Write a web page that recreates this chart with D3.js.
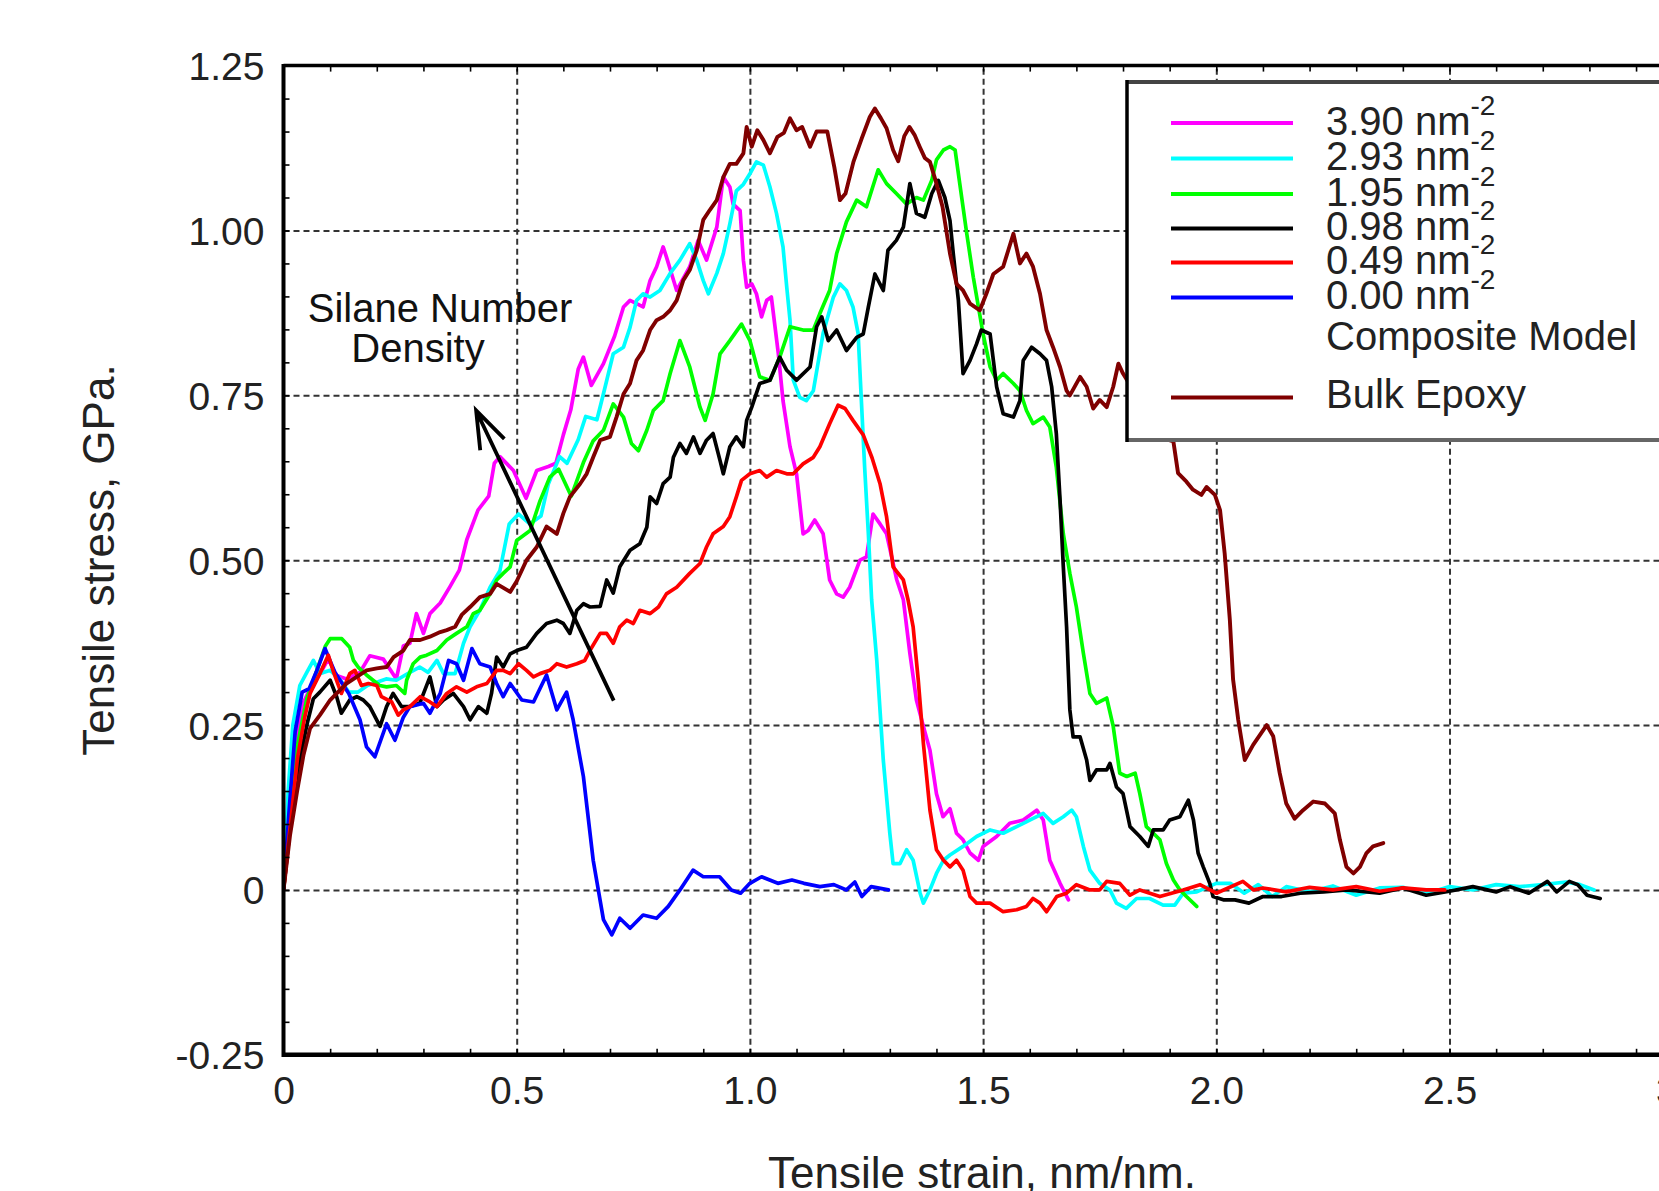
<!DOCTYPE html>
<html><head><meta charset="utf-8">
<script src="https://cdn.jsdelivr.net/npm/d3@7"></script>
<style>html,body{margin:0;padding:0;background:#fff;overflow:hidden}</style>
</head><body><svg id="c" width="1659" height="1191"></svg>
<script>
// ---- tick labels ----
const xTicks = [0, 0.5, 1, 1.5, 2, 2.5, 3];
const xTickLabels = ["0", "0.5", "1.0", "1.5", "2.0", "2.5", "3.0"];
const yTicks = [1.25, 1, 0.75, 0.5, 0.25, 0, -0.25];
const yTickLabels = ["1.25", "1.00", "0.75", "0.50", "0.25", "0", "-0.25"];

// ---- series: [strain, stress] ----
const m390 = [[0,0],[0.012,0.12],[0.025,0.22],[0.04,0.28],[0.06,0.31],[0.08,0.33],[0.096,0.35],[0.114,0.325],[0.135,0.32],[0.164,0.33],[0.185,0.355],[0.214,0.35],[0.242,0.32],[0.257,0.37],[0.271,0.374],[0.285,0.419],[0.3,0.389],[0.314,0.419],[0.336,0.435],[0.357,0.46],[0.377,0.485],[0.393,0.531],[0.417,0.576],[0.44,0.597],[0.452,0.647],[0.464,0.657],[0.493,0.636],[0.52,0.594],[0.543,0.636],[0.568,0.642],[0.584,0.647],[0.6,0.69],[0.616,0.728],[0.632,0.79],[0.643,0.808],[0.66,0.765],[0.686,0.798],[0.71,0.84],[0.729,0.884],[0.743,0.894],[0.771,0.884],[0.786,0.924],[0.8,0.945],[0.814,0.975],[0.821,0.96],[0.843,0.909],[0.871,0.945],[0.889,0.985],[0.907,0.955],[0.929,1.005],[0.943,1.081],[0.957,1.066],[0.964,1.04],[0.979,1.03],[0.986,0.955],[0.993,0.914],[1.004,0.919],[1.014,0.904],[1.025,0.869],[1.036,0.894],[1.046,0.899],[1.061,0.813],[1.071,0.742],[1.086,0.672],[1.1,0.631],[1.114,0.54],[1.125,0.545],[1.139,0.561],[1.157,0.54],[1.171,0.47],[1.186,0.449],[1.2,0.444],[1.214,0.459],[1.236,0.5],[1.25,0.505],[1.264,0.57],[1.279,0.555],[1.293,0.54],[1.315,0.47],[1.329,0.44],[1.343,0.359],[1.357,0.288],[1.372,0.248],[1.386,0.212],[1.4,0.146],[1.414,0.111],[1.429,0.123],[1.443,0.086],[1.457,0.076],[1.472,0.056],[1.49,0.045],[1.5,0.066],[1.529,0.081],[1.557,0.101],[1.586,0.106],[1.615,0.121],[1.629,0.106],[1.643,0.045],[1.665,0.01],[1.683,-0.015]];
const c293 = [[0,0],[0.01,0.15],[0.02,0.25],[0.035,0.31],[0.05,0.33],[0.064,0.348],[0.078,0.328],[0.1,0.333],[0.12,0.32],[0.14,0.3],[0.16,0.3],[0.18,0.31],[0.2,0.315],[0.22,0.32],[0.242,0.318],[0.271,0.33],[0.292,0.338],[0.31,0.33],[0.329,0.348],[0.343,0.328],[0.368,0.328],[0.386,0.374],[0.4,0.399],[0.421,0.424],[0.443,0.459],[0.464,0.484],[0.484,0.555],[0.504,0.57],[0.528,0.555],[0.552,0.567],[0.568,0.616],[0.592,0.657],[0.608,0.647],[0.632,0.683],[0.648,0.718],[0.672,0.713],[0.688,0.758],[0.707,0.813],[0.729,0.823],[0.743,0.853],[0.757,0.894],[0.771,0.904],[0.786,0.899],[0.807,0.909],[0.829,0.935],[0.85,0.955],[0.871,0.98],[0.886,0.955],[0.9,0.924],[0.911,0.904],[0.929,0.935],[0.943,0.965],[0.957,1.01],[0.971,1.06],[0.986,1.07],[1.0,1.086],[1.014,1.104],[1.029,1.099],[1.043,1.066],[1.057,1.026],[1.071,0.975],[1.079,0.914],[1.086,0.864],[1.093,0.773],[1.107,0.747],[1.121,0.742],[1.136,0.757],[1.157,0.844],[1.179,0.899],[1.193,0.919],[1.207,0.909],[1.221,0.884],[1.232,0.844],[1.239,0.742],[1.246,0.641],[1.254,0.54],[1.261,0.44],[1.272,0.348],[1.286,0.197],[1.3,0.086],[1.307,0.04],[1.322,0.04],[1.336,0.061],[1.35,0.045],[1.365,-0.005],[1.372,-0.02],[1.386,0],[1.4,0.025],[1.415,0.045],[1.429,0.053],[1.457,0.066],[1.486,0.081],[1.515,0.091],[1.543,0.086],[1.572,0.096],[1.6,0.106],[1.629,0.116],[1.65,0.101],[1.672,0.111],[1.69,0.121],[1.7,0.111],[1.715,0.066],[1.729,0.03],[1.75,0.01],[1.772,0],[1.786,-0.02],[1.807,-0.028],[1.829,-0.013],[1.857,-0.013],[1.886,-0.023],[1.911,-0.023],[1.929,-0.005],[1.958,-0.003],[2.0,0.01],[2.03,0.01],[2.06,-0.005],[2.09,0.008],[2.12,-0.01],[2.15,0.005],[2.2,-0.003],[2.25,0.006],[2.3,-0.008],[2.35,0.003],[2.4,0.004],[2.45,-0.006],[2.5,0.005],[2.55,0],[2.6,0.008],[2.65,0.005],[2.7,0.008],[2.75,0.012],[2.78,0.008],[2.81,0]];
const g195 = [[0,0],[0.015,0.12],[0.03,0.22],[0.05,0.29],[0.07,0.33],[0.09,0.37],[0.1,0.381],[0.125,0.381],[0.142,0.368],[0.15,0.348],[0.16,0.338],[0.178,0.326],[0.206,0.31],[0.221,0.308],[0.242,0.31],[0.26,0.298],[0.264,0.318],[0.278,0.343],[0.293,0.353],[0.307,0.356],[0.329,0.363],[0.35,0.379],[0.371,0.389],[0.393,0.399],[0.407,0.419],[0.421,0.424],[0.443,0.449],[0.457,0.47],[0.471,0.48],[0.486,0.49],[0.5,0.53],[0.529,0.545],[0.55,0.59],[0.571,0.626],[0.59,0.638],[0.617,0.597],[0.643,0.648],[0.664,0.681],[0.686,0.697],[0.707,0.737],[0.729,0.717],[0.746,0.677],[0.761,0.666],[0.779,0.697],[0.793,0.727],[0.814,0.742],[0.829,0.783],[0.85,0.833],[0.871,0.793],[0.893,0.732],[0.904,0.712],[0.921,0.752],[0.936,0.813],[0.957,0.833],[0.982,0.858],[1.0,0.833],[1.021,0.778],[1.043,0.773],[1.064,0.808],[1.086,0.854],[1.114,0.849],[1.136,0.849],[1.15,0.874],[1.171,0.909],[1.186,0.965],[1.207,1.013],[1.229,1.046],[1.25,1.036],[1.275,1.092],[1.293,1.071],[1.314,1.056],[1.336,1.04],[1.357,1.05],[1.372,1.046],[1.39,1.076],[1.4,1.107],[1.415,1.122],[1.429,1.127],[1.44,1.122],[1.45,1.071],[1.465,0.995],[1.479,0.929],[1.49,0.884],[1.5,0.843],[1.515,0.793],[1.529,0.773],[1.543,0.783],[1.565,0.768],[1.579,0.757],[1.593,0.727],[1.607,0.707],[1.629,0.717],[1.643,0.702],[1.657,0.641],[1.672,0.54],[1.686,0.48],[1.7,0.429],[1.715,0.359],[1.729,0.298],[1.743,0.283],[1.765,0.291],[1.779,0.248],[1.793,0.177],[1.808,0.172],[1.826,0.177],[1.836,0.146],[1.85,0.096],[1.865,0.086],[1.879,0.076],[1.893,0.04],[1.908,0.015],[1.922,0],[1.936,-0.01],[1.958,-0.025]];
const k098 = [[0,0],[0.015,0.1],[0.03,0.18],[0.05,0.25],[0.064,0.29],[0.078,0.3],[0.1,0.318],[0.114,0.293],[0.124,0.268],[0.142,0.288],[0.157,0.293],[0.171,0.288],[0.185,0.278],[0.207,0.248],[0.221,0.278],[0.235,0.298],[0.253,0.278],[0.271,0.278],[0.292,0.283],[0.314,0.323],[0.329,0.278],[0.343,0.288],[0.364,0.298],[0.386,0.278],[0.4,0.258],[0.418,0.278],[0.436,0.268],[0.446,0.298],[0.457,0.353],[0.471,0.338],[0.486,0.358],[0.5,0.363],[0.521,0.368],[0.543,0.389],[0.564,0.404],[0.586,0.409],[0.6,0.404],[0.614,0.389],[0.629,0.424],[0.643,0.434],[0.657,0.429],[0.679,0.43],[0.693,0.47],[0.707,0.45],[0.721,0.49],[0.743,0.515],[0.764,0.525],[0.779,0.55],[0.786,0.596],[0.8,0.586],[0.814,0.616],[0.829,0.626],[0.836,0.656],[0.85,0.677],[0.864,0.662],[0.879,0.687],[0.893,0.662],[0.907,0.682],[0.921,0.692],[0.936,0.651],[0.943,0.631],[0.957,0.672],[0.971,0.687],[0.986,0.672],[0.993,0.712],[1.004,0.732],[1.021,0.768],[1.043,0.773],[1.064,0.808],[1.079,0.788],[1.1,0.773],[1.129,0.793],[1.143,0.854],[1.154,0.869],[1.168,0.833],[1.186,0.849],[1.207,0.818],[1.229,0.838],[1.243,0.843],[1.254,0.884],[1.268,0.934],[1.286,0.909],[1.296,0.97],[1.314,0.985],[1.329,1.005],[1.343,1.071],[1.357,1.026],[1.375,1.02],[1.39,1.056],[1.404,1.076],[1.418,1.05],[1.429,1.015],[1.436,0.965],[1.447,0.894],[1.457,0.783],[1.472,0.803],[1.486,0.828],[1.496,0.849],[1.515,0.843],[1.529,0.763],[1.543,0.722],[1.565,0.717],[1.579,0.742],[1.586,0.803],[1.604,0.823],[1.622,0.813],[1.636,0.803],[1.647,0.763],[1.657,0.692],[1.665,0.591],[1.672,0.49],[1.679,0.399],[1.686,0.273],[1.693,0.232],[1.708,0.232],[1.722,0.197],[1.729,0.166],[1.743,0.182],[1.765,0.182],[1.772,0.192],[1.786,0.156],[1.8,0.146],[1.815,0.096],[1.836,0.081],[1.854,0.066],[1.865,0.091],[1.886,0.091],[1.9,0.106],[1.922,0.111],[1.94,0.136],[1.951,0.106],[1.961,0.056],[1.972,0.035],[1.986,0.01],[1.993,-0.01],[2.015,-0.015],[2.04,-0.015],[2.07,-0.02],[2.1,-0.01],[2.14,-0.01],[2.18,-0.005],[2.23,-0.003],[2.28,0],[2.35,-0.005],[2.4,0.003],[2.45,-0.008],[2.5,-0.002],[2.55,0.005],[2.6,-0.003],[2.63,0.005],[2.67,-0.005],[2.71,0.013],[2.73,-0.003],[2.757,0.013],[2.775,0.008],[2.795,-0.008],[2.823,-0.013]];
const r049 = [[0,0],[0.015,0.1],[0.03,0.2],[0.045,0.26],[0.057,0.298],[0.078,0.328],[0.096,0.356],[0.106,0.333],[0.124,0.298],[0.142,0.328],[0.153,0.333],[0.167,0.31],[0.182,0.313],[0.2,0.31],[0.21,0.293],[0.232,0.285],[0.246,0.265],[0.257,0.273],[0.271,0.278],[0.293,0.293],[0.314,0.285],[0.329,0.278],[0.35,0.298],[0.371,0.308],[0.393,0.3],[0.414,0.308],[0.436,0.313],[0.457,0.333],[0.471,0.333],[0.486,0.328],[0.504,0.343],[0.521,0.333],[0.536,0.323],[0.55,0.328],[0.571,0.333],[0.586,0.343],[0.607,0.338],[0.629,0.343],[0.646,0.348],[0.657,0.363],[0.679,0.389],[0.693,0.389],[0.707,0.374],[0.721,0.399],[0.736,0.409],[0.75,0.404],[0.764,0.424],[0.786,0.419],[0.804,0.429],[0.821,0.449],[0.843,0.459],[0.871,0.48],[0.893,0.495],[0.907,0.52],[0.921,0.54],[0.943,0.551],[0.957,0.566],[0.971,0.596],[0.982,0.621],[1.0,0.631],[1.021,0.636],[1.036,0.626],[1.057,0.636],[1.079,0.631],[1.093,0.631],[1.114,0.646],[1.136,0.656],[1.15,0.672],[1.171,0.707],[1.189,0.735],[1.204,0.73],[1.221,0.712],[1.243,0.69],[1.262,0.655],[1.279,0.616],[1.293,0.566],[1.307,0.49],[1.329,0.47],[1.339,0.44],[1.35,0.399],[1.361,0.318],[1.372,0.222],[1.386,0.121],[1.4,0.061],[1.415,0.045],[1.429,0.035],[1.443,0.045],[1.457,0.03],[1.472,-0.01],[1.486,-0.02],[1.515,-0.02],[1.543,-0.033],[1.572,-0.03],[1.593,-0.025],[1.607,-0.013],[1.622,-0.02],[1.636,-0.033],[1.658,-0.01],[1.679,-0.005],[1.7,0.008],[1.729,0],[1.75,0],[1.765,0.013],[1.793,0.01],[1.815,-0.008],[1.836,0],[1.879,-0.01],[1.929,0],[1.965,0.008],[2.0,-0.005],[2.057,0.013],[2.08,0],[2.1,0.003],[2.15,-0.003],[2.2,0.004],[2.25,0],[2.3,0.005],[2.35,-0.002],[2.4,0.003],[2.45,0],[2.49,0]];
const b000 = [[0,0],[0.012,0.12],[0.025,0.24],[0.04,0.3],[0.055,0.305],[0.07,0.33],[0.089,0.366],[0.11,0.33],[0.14,0.298],[0.164,0.258],[0.178,0.217],[0.196,0.202],[0.221,0.252],[0.239,0.227],[0.257,0.262],[0.271,0.278],[0.3,0.283],[0.314,0.268],[0.336,0.298],[0.354,0.348],[0.371,0.343],[0.386,0.318],[0.404,0.366],[0.421,0.343],[0.443,0.338],[0.457,0.313],[0.471,0.293],[0.486,0.313],[0.511,0.288],[0.536,0.285],[0.564,0.326],[0.586,0.273],[0.607,0.3],[0.621,0.258],[0.643,0.172],[0.664,0.045],[0.686,-0.045],[0.704,-0.068],[0.721,-0.043],[0.743,-0.058],[0.771,-0.038],[0.8,-0.043],[0.825,-0.025],[0.85,0],[0.878,0.03],[0.9,0.02],[0.935,0.02],[0.96,0],[0.98,-0.005],[1.0,0.01],[1.025,0.02],[1.06,0.01],[1.09,0.015],[1.116,0.01],[1.15,0.005],[1.18,0.008],[1.207,0],[1.225,0.012],[1.24,-0.01],[1.26,0.005],[1.297,0]];
const bulk = [[0,0],[0.014,0.083],[0.029,0.149],[0.043,0.205],[0.057,0.245],[0.078,0.265],[0.1,0.288],[0.114,0.298],[0.135,0.313],[0.157,0.323],[0.178,0.333],[0.2,0.336],[0.221,0.338],[0.236,0.353],[0.257,0.363],[0.271,0.379],[0.293,0.379],[0.314,0.384],[0.336,0.391],[0.35,0.394],[0.368,0.399],[0.382,0.417],[0.4,0.429],[0.421,0.444],[0.443,0.449],[0.457,0.464],[0.486,0.452],[0.5,0.468],[0.521,0.5],[0.543,0.52],[0.564,0.551],[0.586,0.54],[0.6,0.571],[0.614,0.596],[0.636,0.616],[0.65,0.631],[0.664,0.656],[0.679,0.682],[0.7,0.687],[0.714,0.717],[0.729,0.752],[0.743,0.768],[0.757,0.803],[0.771,0.818],[0.786,0.849],[0.8,0.864],[0.814,0.869],[0.829,0.879],[0.843,0.894],[0.857,0.924],[0.871,0.94],[0.886,0.97],[0.9,1.016],[0.914,1.031],[0.929,1.046],[0.943,1.081],[0.957,1.101],[0.971,1.101],[0.986,1.117],[0.993,1.157],[1.004,1.127],[1.016,1.152],[1.029,1.137],[1.043,1.117],[1.059,1.142],[1.073,1.148],[1.086,1.17],[1.1,1.152],[1.112,1.157],[1.129,1.127],[1.143,1.15],[1.166,1.15],[1.181,1.096],[1.193,1.046],[1.205,1.056],[1.222,1.104],[1.24,1.14],[1.257,1.172],[1.268,1.185],[1.281,1.17],[1.293,1.155],[1.307,1.122],[1.318,1.105],[1.331,1.143],[1.342,1.157],[1.353,1.145],[1.364,1.127],[1.375,1.11],[1.386,1.104],[1.398,1.076],[1.413,1.036],[1.429,0.965],[1.443,0.919],[1.457,0.909],[1.472,0.889],[1.493,0.879],[1.507,0.904],[1.522,0.934],[1.543,0.945],[1.554,0.97],[1.565,0.995],[1.579,0.95],[1.593,0.965],[1.607,0.945],[1.622,0.904],[1.636,0.849],[1.65,0.823],[1.665,0.793],[1.679,0.757],[1.686,0.75],[1.708,0.778],[1.722,0.763],[1.736,0.73],[1.75,0.743],[1.765,0.732],[1.779,0.763],[1.79,0.798],[1.8,0.783],[1.82,0.76],[1.84,0.72],[1.86,0.69],[1.885,0.685],[1.908,0.68],[1.918,0.632],[1.936,0.619],[1.95,0.607],[1.968,0.599],[1.979,0.611],[1.997,0.599],[2.008,0.576],[2.018,0.51],[2.029,0.41],[2.036,0.319],[2.047,0.258],[2.061,0.197],[2.079,0.22],[2.108,0.25],[2.122,0.233],[2.136,0.177],[2.15,0.131],[2.168,0.108],[2.186,0.121],[2.208,0.134],[2.233,0.131],[2.254,0.116],[2.265,0.076],[2.279,0.035],[2.294,0.025],[2.308,0.035],[2.322,0.056],[2.336,0.066],[2.358,0.071]];

const densityLabels = ["3.90", "2.93", "1.95", "0.98", "0.49", "0.00"];
const densityData = [m390, c293, g195, k098, r049, b000];
const densityColors = ["#ff00ff", "#00ffff", "#00ff00", "#000000", "#ff0000", "#0000ff"];
const bulkLabel = "Bulk Epoxy";
const bulkColor = "#800000";
const compositeLabel = "Composite Model";
const arrowFrom = [0.708, 0.287], arrowTo = [0.413, 0.727];

// ---- layout ----
const W = 1659, H = 1191;
const x = d3.scaleLinear().domain([0, 3]).range([283.5, 1682.7]);
const y = d3.scaleLinear().domain([-0.25, 1.25]).range([1054.8, 65.6]);
const svg = d3.select("#c");
const FONT = "'Liberation Sans', Arial, Helvetica, sans-serif";
const plotTop = y(1.25), plotBot = y(-0.25), plotL = x(0);
const plotH = plotBot - plotTop;

svg.append("defs").append("clipPath").attr("id", "clip")
  .append("rect").attr("x", plotL).attr("y", plotTop).attr("width", W - plotL + 40).attr("height", plotH);

// gridlines
const gx = svg.append("g").attr("transform", `translate(0,${plotBot})`)
  .call(d3.axisBottom(x).tickValues(xTicks.filter(v => v > 0)).tickSize(-plotH).tickFormat(""));
const gy = svg.append("g").attr("transform", `translate(${plotL},0)`)
  .call(d3.axisLeft(y).tickValues(yTicks.filter(v => v > -0.25 && v < 1.25)).tickSize(-(W - plotL + 40)).tickFormat(""));
[gx, gy].forEach(g => {
  g.select(".domain").remove();
  g.selectAll("line").attr("stroke", "#333").attr("stroke-width", 2).attr("stroke-dasharray", "6,4");
});

// curves
const line = d3.line().x(d => x(d[0])).y(d => y(d[1]));
const curves = svg.append("g").attr("clip-path", "url(#clip)");
const drawOrder = [0, 1, 2, 3, 5, 4];
drawOrder.forEach(i => {
  curves.append("path").datum(densityData[i]).attr("d", line)
    .attr("fill", "none").attr("stroke", densityColors[i]).attr("stroke-width", 3.7)
    .attr("stroke-linejoin", "round").attr("stroke-linecap", "round");
});
curves.append("path").datum(bulk).attr("d", line)
  .attr("fill", "none").attr("stroke", bulkColor).attr("stroke-width", 3.9)
  .attr("stroke-linejoin", "round").attr("stroke-linecap", "round");

// minor ticks
const minorX = d3.range(0, 31).map(i => i / 10);
const minorY = d3.range(0, 31).map(i => -0.25 + i * 0.05);
const tb = svg.append("g").attr("transform", `translate(0,${plotBot})`)
  .call(d3.axisBottom(x).tickValues(minorX).tickSize(-6).tickFormat(""));
const tt = svg.append("g").attr("transform", `translate(0,${plotTop})`)
  .call(d3.axisTop(x).tickValues(minorX).tickSize(-6).tickFormat(""));
const tl = svg.append("g").attr("transform", `translate(${plotL},0)`)
  .call(d3.axisLeft(y).tickValues(minorY).tickSize(-6).tickFormat(""));
[tb, tt, tl].forEach(g => {
  g.select(".domain").remove();
  g.selectAll("line").attr("stroke", "#000").attr("stroke-width", 1.6);
});

// frame
svg.append("line").attr("x1", plotL).attr("x2", W + 10).attr("y1", plotTop).attr("y2", plotTop)
  .attr("stroke", "#000").attr("stroke-width", 3.5);
svg.append("line").attr("x1", plotL).attr("x2", W + 10).attr("y1", plotBot).attr("y2", plotBot)
  .attr("stroke", "#000").attr("stroke-width", 4.5);
svg.append("line").attr("x1", plotL).attr("x2", plotL).attr("y1", plotTop - 1.7).attr("y2", plotBot + 2.2)
  .attr("stroke", "#000").attr("stroke-width", 4);

// tick labels
const lx = svg.append("g").attr("transform", `translate(0,${plotBot})`)
  .call(d3.axisBottom(x).tickValues(xTicks).tickSize(0).tickPadding(22).tickFormat((d, i) => xTickLabels[i]));
const ly = svg.append("g").attr("transform", `translate(${plotL},0)`)
  .call(d3.axisLeft(y).tickValues(yTicks).tickSize(0).tickPadding(19).tickFormat((d, i) => yTickLabels[i]));
[lx, ly].forEach(g => {
  g.select(".domain").remove();
  g.selectAll("text").attr("font-family", FONT).attr("font-size", 39).attr("fill", "#222");
});
ly.selectAll("text").attr("dy", "0.36em");

// axis titles
svg.append("text").attr("x", 982).attr("y", 1188).attr("text-anchor", "middle")
  .attr("font-family", FONT).attr("font-size", 44).attr("fill", "#222").text("Tensile strain, nm/nm.");
svg.append("text").attr("transform", "translate(113.5,560) rotate(-90)").attr("text-anchor", "middle")
  .attr("font-family", FONT).attr("font-size", 44).attr("fill", "#222").text("Tensile stress, GPa.");

// annotation
svg.append("text").attr("x", 440).attr("y", 322).attr("text-anchor", "middle")
  .attr("font-family", FONT).attr("font-size", 40).attr("fill", "#111").text("Silane Number");
svg.append("text").attr("x", 418).attr("y", 362).attr("text-anchor", "middle")
  .attr("font-family", FONT).attr("font-size", 40).attr("fill", "#111").text("Density");
const tip = [x(arrowTo[0]), y(arrowTo[1])], tail = [x(arrowFrom[0]), y(arrowFrom[1])];
const ang = Math.atan2(tail[1] - tip[1], tail[0] - tip[0]);
const aLen = 40, aSpread = 0.34;
svg.append("path")
  .attr("d", `M${tail[0]},${tail[1]}L${tip[0]},${tip[1]}` +
    `M${tip[0] + aLen * Math.cos(ang + aSpread)},${tip[1] + aLen * Math.sin(ang + aSpread)}L${tip[0]},${tip[1]}` +
    `L${tip[0] + aLen * Math.cos(ang - aSpread)},${tip[1] + aLen * Math.sin(ang - aSpread)}`)
  .attr("fill", "none").attr("stroke", "#000").attr("stroke-width", 3.8).attr("stroke-linejoin", "miter");

// legend
const lg = svg.append("g");
const boxL = 1127, boxT = 82, boxB = 440;
lg.append("rect").attr("x", boxL).attr("y", boxT).attr("width", W - boxL + 20).attr("height", boxB - boxT).attr("fill", "#fff");
lg.append("line").attr("x1", boxL).attr("x2", W + 10).attr("y1", boxT).attr("y2", boxT).attr("stroke", "#444").attr("stroke-width", 4);
lg.append("line").attr("x1", boxL).attr("x2", W + 10).attr("y1", boxB).attr("y2", boxB).attr("stroke", "#666").attr("stroke-width", 4);
lg.append("line").attr("x1", boxL).attr("x2", boxL).attr("y1", boxT - 2).attr("y2", boxB + 2).attr("stroke", "#000").attr("stroke-width", 3.5);
const rowY = [123, 158.5, 194, 228.5, 262.5, 297.5];
densityLabels.forEach((lab, i) => {
  lg.append("line").attr("x1", 1171).attr("x2", 1293).attr("y1", rowY[i]).attr("y2", rowY[i])
    .attr("stroke", densityColors[i]).attr("stroke-width", 4);
  const t = lg.append("text").attr("x", 1326).attr("y", rowY[i] + 11.5)
    .attr("font-family", FONT).attr("font-size", 40).attr("fill", "#222");
  t.append("tspan").text(lab + " nm");
  t.append("tspan").attr("dy", -20).attr("font-size", 28).text("-2");
});
lg.append("text").attr("x", 1326).attr("y", 350).attr("font-family", FONT).attr("font-size", 40).attr("fill", "#222").text(compositeLabel);
lg.append("line").attr("x1", 1171).attr("x2", 1293).attr("y1", 397.5).attr("y2", 397.5).attr("stroke", bulkColor).attr("stroke-width", 4);
lg.append("text").attr("x", 1326).attr("y", 408).attr("font-family", FONT).attr("font-size", 40).attr("fill", "#222").text(bulkLabel);
</script></body></html>
